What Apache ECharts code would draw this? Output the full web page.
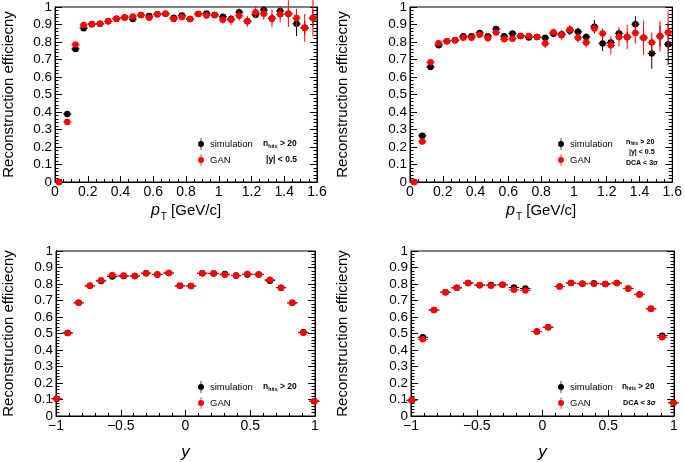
<!DOCTYPE html>
<html>
<head>
<meta charset="utf-8">
<script src="https://cdn.jsdelivr.net/npm/echarts@6/dist/echarts.min.js"></script>
<style>html,body{margin:0;padding:0;background:#fff}#c{width:685px;height:462px}</style>
</head>
<body>
<div id="c"></div>
<script>
// ---------------- data ----------------
const ptCenters = [0.025,0.075,0.125,0.175,0.225,0.275,0.325,0.375,0.425,0.475,0.525,0.575,0.625,0.675,0.725,0.775,0.825,0.875,0.925,0.975,1.025,1.075,1.125,1.175,1.225,1.275,1.325,1.375,1.425,1.475,1.525,1.575];
const ptHalfBin = 0.025;
// pT, nhits>20, |y|<0.5
const ptSim = [0,0.388,0.760,0.879,0.902,0.904,0.918,0.933,0.940,0.931,0.954,0.948,0.958,0.962,0.938,0.952,0.931,0.960,0.963,0.954,0.944,0.931,0.970,0.918,0.956,0.983,0.935,0.977,0.962,0.904,0.881,0.937];
const ptSimErr = [0,0.006,0.005,0.004,0.004,0.004,0.004,0.005,0.005,0.006,0.006,0.007,0.008,0.009,0.010,0.011,0.012,0.013,0.014,0.015,0.016,0.017,0.020,0.020,0.020,0.020,0.025,0.020,0.030,0.070,0.040,0.050];
const ptGan = [0,0.343,0.786,0.897,0.902,0.904,0.918,0.933,0.940,0.946,0.954,0.938,0.958,0.962,0.931,0.943,0.931,0.960,0.952,0.954,0.927,0.927,0.950,0.918,0.970,0.962,0.935,0.958,0.962,0.937,0.881,0.937];
const ptGanErr = [0,0.006,0.005,0.004,0.004,0.004,0.005,0.005,0.006,0.006,0.007,0.008,0.009,0.010,0.012,0.013,0.015,0.017,0.020,0.017,0.022,0.029,0.028,0.032,0.032,0.035,0.050,0.046,0.077,0.053,0.080,0.105];
// pT, nhits>20, |y|<0.5, DCA<3sigma
const ptSimDca = [0,0.264,0.657,0.782,0.805,0.810,0.833,0.833,0.852,0.833,0.874,0.833,0.849,0.835,0.826,0.829,0.824,0.847,0.845,0.864,0.858,0.829,0.887,0.791,0.797,0.849,0.829,0.902,0.824,0.734,0.833,0.787];
const ptSimDcaErr = [0,0.008,0.007,0.006,0.006,0.006,0.007,0.007,0.008,0.008,0.009,0.010,0.011,0.012,0.013,0.014,0.015,0.020,0.022,0.024,0.025,0.021,0.038,0.043,0.024,0.023,0.030,0.045,0.040,0.086,0.060,0.120];
const ptGanDca = [0,0.232,0.684,0.793,0.805,0.810,0.824,0.824,0.841,0.822,0.855,0.816,0.818,0.835,0.835,0.829,0.791,0.856,0.839,0.872,0.824,0.797,0.877,0.849,0.782,0.829,0.829,0.852,0.824,0.797,0.833,0.855];
const ptGanDcaErr = [0,0.008,0.007,0.006,0.006,0.006,0.007,0.008,0.009,0.010,0.011,0.012,0.013,0.014,0.016,0.018,0.026,0.020,0.029,0.024,0.027,0.029,0.027,0.029,0.053,0.055,0.070,0.060,0.098,0.057,0.086,0.120];

const yCenters = [-0.995,-0.910,-0.825,-0.738,-0.652,-0.565,-0.478,-0.391,-0.304,-0.217,-0.130,-0.043,0.043,0.130,0.217,0.304,0.391,0.478,0.565,0.652,0.738,0.825,0.910,0.995];
const yHalfBin = 0.040;
// rapidity, nhits>20
const ySim = [0.105,0.503,0.686,0.789,0.818,0.845,0.848,0.848,0.865,0.858,0.867,0.789,0.788,0.865,0.863,0.860,0.852,0.858,0.858,0.820,0.778,0.686,0.507,0.090];
const yGan = [0.105,0.503,0.686,0.789,0.822,0.855,0.851,0.848,0.865,0.858,0.867,0.789,0.788,0.865,0.865,0.856,0.850,0.860,0.858,0.826,0.778,0.686,0.505,0.090];
// rapidity, nhits>20, DCA<3sigma
const ySimDca = [0.095,0.477,0.642,0.750,0.777,0.806,0.792,0.794,0.796,0.779,0.773,0.512,0.538,0.785,0.806,0.802,0.804,0.800,0.806,0.773,0.737,0.650,0.487,0.080];
const yGanDca = [0.095,0.465,0.642,0.750,0.777,0.806,0.794,0.790,0.796,0.765,0.760,0.512,0.538,0.785,0.806,0.802,0.802,0.800,0.806,0.773,0.737,0.650,0.477,0.080];
const yErr = 0.005;

const yTitle = 'Reconstruction efficiecny';
const legendNames = ['simulation', 'GAN'];

// ---------------- chart ----------------
const FONT = '"Liberation Sans", Arial, Helvetica, sans-serif';
const SIM_COLOR = '#000000';
const GAN_COLOR = '#ff0000';

const grids = [
  {left: 49, top: 7, width: 268, height: 175},
  {left: 410, top: 7, width: 267, height: 175},
  {left: 52, top: 251, width: 263, height: 172},
  {left: 411, top: 251, width: 263, height: 172}
];

function errRender(params, api) {
  const x = api.value(0), y = api.value(1), ex = api.value(2), ey = api.value(3);
  const c = api.coord([x, y]);
  const l = api.coord([x - ex, y]);
  const r = api.coord([x + ex, y]);
  const t = api.coord([x, y + ey]);
  const b = api.coord([x, y - ey]);
  const color = api.visual('color');
  return {type: 'group', children: [
    {type: 'line', shape: {x1: l[0], y1: c[1], x2: r[0], y2: c[1]}, style: {stroke: color, lineWidth: 1}},
    {type: 'line', shape: {x1: c[0], y1: t[1], x2: c[0], y2: b[1]}, style: {stroke: color, lineWidth: 1}}
  ]};
}

const ptName = '{p|p}{t|T}{n| [GeV/c]}';
const ptNameStyle = {color: '#000', fontFamily: FONT, fontSize: 15,
  rich: {
    p: {fontStyle: 'italic', fontSize: 16, fontFamily: FONT, color: '#000', lineHeight: 30},
    t: {fontSize: 10, fontFamily: FONT, color: '#000', lineHeight: 10, verticalAlign: 'bottom', padding: [0, 0, 4, 1]},
    n: {fontSize: 15, fontFamily: FONT, color: '#000', lineHeight: 30}
  }};

function xAxis(i, kind) {
  const isPt = kind === 'pt';
  return {
    gridIndex: i, type: 'value',
    min: isPt ? 0 : -1, max: isPt ? 1.6 : 1, interval: isPt ? 0.2 : 0.5,
    axisLine: {show: true, onZero: false, lineStyle: {color: '#000', width: 1}},
    axisTick: {show: true, inside: true, length: 6, lineStyle: {color: '#000', width: 1}},
    minorTick: {show: true, splitNumber: isPt ? 4 : 5, length: 3, lineStyle: {color: '#000', width: 1}},
    splitLine: {show: false}, minorSplitLine: {show: false},
    axisLabel: {color: '#000', fontSize: 14, fontFamily: FONT, margin: 3,
      formatter: v => String(+v.toFixed(2)).replace('-', '\u2212'), showMinLabel: true, showMaxLabel: true},
    name: isPt ? ptName : 'y',
    nameLocation: 'middle',
    nameGap: isPt ? 14 : 28,
    nameTextStyle: isPt ? ptNameStyle : {color: '#000', fontFamily: FONT, fontSize: 17, fontStyle: 'italic'}
  };
}

function yAxes(i, gap) {
  const base = {
    gridIndex: i, type: 'value', min: 0, max: 1, interval: 0.1,
    axisLine: {show: true, onZero: false, lineStyle: {color: '#000', width: 1}},
    axisTick: {show: true, inside: true, length: 7, lineStyle: {color: '#000', width: 1}},
    minorTick: {show: true, splitNumber: 5, length: 3.5, lineStyle: {color: '#000', width: 1}},
    splitLine: {show: false}, minorSplitLine: {show: false}
  };
  return [
    Object.assign({}, base, {
      position: 'left',
      axisLabel: {color: '#000', fontSize: 13.5, fontFamily: FONT, margin: 3,
        formatter: v => String(+v.toFixed(2)), showMinLabel: true, showMaxLabel: true},
      name: yTitle, nameLocation: 'middle', nameGap: gap,
      nameTextStyle: {color: '#000', fontFamily: FONT, fontSize: 15}
    }),
    Object.assign({}, base, {position: 'right', axisLabel: {show: false}})
  ];
}

const xAxes = [xAxis(0, 'pt'), xAxis(1, 'pt'), xAxis(2, 'y'), xAxis(3, 'y')];
const yAxesAll = [].concat(yAxes(0, 39), yAxes(1, 60), yAxes(2, 40), yAxes(3, 61));

const panels = [
  {x: ptCenters, ex: ptHalfBin, sim: ptSim, simErr: ptSimErr, gan: ptGan, ganErr: ptGanErr},
  {x: ptCenters, ex: ptHalfBin, sim: ptSimDca, simErr: ptSimDcaErr, gan: ptGanDca, ganErr: ptGanDcaErr},
  {x: yCenters, ex: yHalfBin, sim: ySim, simErr: yCenters.map(() => yErr), gan: yGan, ganErr: yCenters.map(() => yErr)},
  {x: yCenters, ex: yHalfBin, sim: ySimDca, simErr: yCenters.map(() => yErr), gan: yGanDca, ganErr: yCenters.map(() => yErr)}
];

const series = [];
panels.forEach((p, i) => {
  const common = {xAxisIndex: i, yAxisIndex: 2 * i, animation: false, silent: true};
  [[legendNames[0], p.sim, p.simErr, SIM_COLOR, 2], [legendNames[1], p.gan, p.ganErr, GAN_COLOR, 4]].forEach(([name, vals, errs, color, z]) => {
    series.push(Object.assign({}, common, {
      type: 'custom', name: name, z: z, renderItem: errRender,
      itemStyle: {color: color},
      encode: {x: 0, y: 1},
      data: p.x.map((x, k) => [x, vals[k], p.ex, errs[k]])
    }));
    series.push(Object.assign({}, common, {
      type: 'scatter', name: name, z: z + 1, symbol: 'circle', symbolSize: 6.5,
      itemStyle: {color: color, opacity: 1}, clip: false,
      data: p.x.map((x, k) => [x, vals[k]])
    }));
  });
});

const ICON = 'path://M4.4,0 L5.6,0 L5.6,5 L4.4,5 Z M4.4,15 L5.6,15 L5.6,20 L4.4,20 Z M5,5 A5,5 0 1,1 5,15 A5,5 0 1,1 5,5 Z';
const legendPos = [[198, 138], [558, 138], [198, 381], [558, 381]];
const legends = legendPos.map(([l, t]) => ({
  left: l, top: t, orient: 'vertical', padding: 0, itemGap: 4, itemWidth: 6, itemHeight: 12,
  selectedMode: false,
  textStyle: {color: '#000', fontSize: 9.5, fontFamily: FONT, padding: [0, 0, 0, 1]},
  data: legendNames.map(n => ({name: n, icon: ICON}))
}));

function note(text, x, y, size) {
  return {type: 'text', x: x, y: y, silent: true,
    style: {text: text, fill: '#000', verticalAlign: 'middle', align: 'left',
      font: 'bold ' + size + 'px ' + FONT,
      rich: {
        b: {fontSize: size, fontWeight: 'bold', fontFamily: FONT, fill: '#000'},
        s: {fontSize: size * 0.62, fontWeight: 'bold', fontFamily: FONT, fill: '#000', verticalAlign: 'bottom', padding: [size * 0.5, 0, 0, 0]}
      }}};
}
const NHITS = '{b|n}{s|hits}{b| > 20}';
const graphics = [
  note(NHITS, 263, 144, 8.5),
  note('{b||y| < 0.5}', 266, 160, 8.5),
  note(NHITS, 626, 142, 7.2),
  note('{b||y| < 0.5}', 629, 152, 7),
  note('{b|DCA < 3\u03c3}', 626, 163, 7),
  note(NHITS, 263, 387, 8.5),
  note(NHITS, 622, 387, 8.2),
  note('{b|DCA < 3\u03c3}', 623, 403, 7.2)
];

const chart = echarts.init(document.getElementById('c'), null, {renderer: 'canvas'});
chart.setOption({
  backgroundColor: '#ffffff',
  animation: false,
  grid: grids.map(g => Object.assign({show: true, borderColor: '#000', borderWidth: 1, backgroundColor: 'transparent'}, g)),
  xAxis: xAxes,
  yAxis: yAxesAll,
  legend: legends,
  graphic: graphics,
  series: series
});
</script>
</body>
</html>
